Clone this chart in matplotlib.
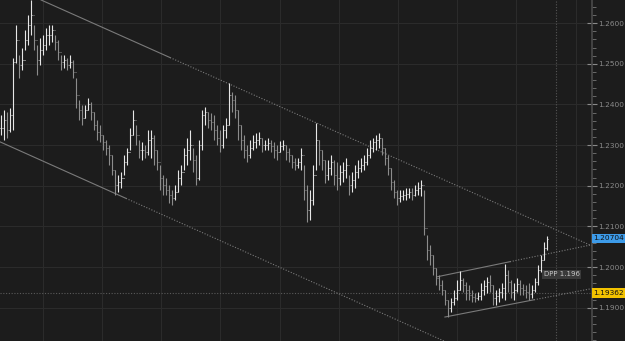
import numpy as np
import matplotlib
matplotlib.use("Agg")
import matplotlib.pyplot as plt
from matplotlib.ticker import MultipleLocator, FormatStrFormatter

# OHLC bars (price)
highs = [1.2374, 1.2386, 1.2381, 1.2391, 1.2514, 1.2595, 1.2522, 1.2539, 1.2583, 1.2620,
         1.2657, 1.2595, 1.2546, 1.2563, 1.2571, 1.2588, 1.2595, 1.2595, 1.2571, 1.2559,
         1.2522, 1.2522, 1.2514, 1.2522, 1.2509, 1.2465, 1.2411, 1.2399, 1.2399, 1.2416,
         1.2406, 1.2381, 1.2362, 1.2349, 1.2325, 1.2312, 1.2300, 1.2276, 1.2239, 1.2226,
         1.2234, 1.2276, 1.2293, 1.2342, 1.2386, 1.2349, 1.2312, 1.2308, 1.2300, 1.2337,
         1.2337, 1.2325, 1.2288, 1.2251, 1.2226, 1.2219, 1.2202, 1.2189, 1.2202, 1.2239,
         1.2251, 1.2293, 1.2317, 1.2337, 1.2293, 1.2276, 1.2312, 1.2386, 1.2394, 1.2381,
         1.2379, 1.2374, 1.2349, 1.2337, 1.2349, 1.2367, 1.2453, 1.2431, 1.2423, 1.2386,
         1.2349, 1.2325, 1.2300, 1.2312, 1.2325, 1.2330, 1.2332, 1.2317, 1.2312, 1.2317,
         1.2312, 1.2308, 1.2300, 1.2310, 1.2312, 1.2300, 1.2293, 1.2276, 1.2268, 1.2268,
         1.2293, 1.2251, 1.2202, 1.2189, 1.2251, 1.2354, 1.2312, 1.2288, 1.2263, 1.2263,
         1.2276, 1.2263, 1.2258, 1.2251, 1.2258, 1.2268, 1.2226, 1.2234, 1.2251, 1.2263,
         1.2268, 1.2276, 1.2293, 1.2312, 1.2317, 1.2325, 1.2330, 1.2317, 1.2293, 1.2276,
         1.2244, 1.2214, 1.2189, 1.2189, 1.2189, 1.2194, 1.2194, 1.2194, 1.2202, 1.2209,
         1.2214, 1.2189, 1.2079, 1.2054, 1.2029, 1.1997, 1.1980, 1.1968, 1.1943, 1.1919,
         1.1923, 1.1943, 1.1968, 1.1990, 1.1973, 1.1963, 1.1956, 1.1943, 1.1936, 1.1938,
         1.1961, 1.1968, 1.1975, 1.1980, 1.1956, 1.1943, 1.1948, 1.1961, 1.2007, 1.1993,
         1.1968, 1.1961, 1.1973, 1.1968, 1.1958, 1.1956, 1.1961, 1.1956, 1.1973, 1.2005,
         1.2029, 1.2061, 1.2076]
lows = [1.2325, 1.2312, 1.2317, 1.2332, 1.2337, 1.2502, 1.2465, 1.2485, 1.2534, 1.2546,
        1.2571, 1.2534, 1.2472, 1.2497, 1.2522, 1.2534, 1.2546, 1.2554, 1.2534, 1.2509,
        1.2485, 1.2490, 1.2485, 1.2490, 1.2465, 1.2391, 1.2362, 1.2349, 1.2367, 1.2386,
        1.2362, 1.2337, 1.2312, 1.2308, 1.2288, 1.2276, 1.2251, 1.2226, 1.2177, 1.2184,
        1.2194, 1.2226, 1.2251, 1.2288, 1.2325, 1.2300, 1.2268, 1.2263, 1.2268, 1.2276,
        1.2268, 1.2251, 1.2239, 1.2189, 1.2177, 1.2177, 1.2157, 1.2152, 1.2165, 1.2184,
        1.2202, 1.2239, 1.2251, 1.2263, 1.2234, 1.2202, 1.2214, 1.2288, 1.2349, 1.2342,
        1.2337, 1.2312, 1.2300, 1.2283, 1.2293, 1.2317, 1.2349, 1.2381, 1.2367, 1.2312,
        1.2288, 1.2268, 1.2258, 1.2268, 1.2288, 1.2293, 1.2300, 1.2283, 1.2288, 1.2288,
        1.2283, 1.2268, 1.2263, 1.2283, 1.2288, 1.2263, 1.2258, 1.2244, 1.2239, 1.2244,
        1.2239, 1.2165, 1.2111, 1.2116, 1.2152, 1.2239, 1.2251, 1.2239, 1.2207, 1.2214,
        1.2226, 1.2202, 1.2189, 1.2202, 1.2209, 1.2219, 1.2177, 1.2184, 1.2194, 1.2219,
        1.2234, 1.2239, 1.2251, 1.2268, 1.2283, 1.2288, 1.2293, 1.2276, 1.2251, 1.2226,
        1.2189, 1.2170, 1.2152, 1.2160, 1.2165, 1.2165, 1.2170, 1.2165, 1.2175, 1.2177,
        1.2175, 1.2079, 1.2017, 1.2005, 1.1980, 1.1956, 1.1943, 1.1931, 1.1906, 1.1877,
        1.1889, 1.1906, 1.1919, 1.1943, 1.1938, 1.1919, 1.1919, 1.1914, 1.1914, 1.1919,
        1.1919, 1.1931, 1.1936, 1.1938, 1.1906, 1.1906, 1.1914, 1.1923, 1.1919, 1.1938,
        1.1923, 1.1919, 1.1938, 1.1931, 1.1931, 1.1923, 1.1919, 1.1923, 1.1938, 1.1956,
        1.1988, 1.2017, 1.2042]
closes = [1.2342, 1.2362, 1.2337, 1.2374, 1.2504, 1.2559, 1.2497, 1.2509, 1.2559, 1.2595,
          1.2620, 1.2559, 1.2509, 1.2534, 1.2546, 1.2571, 1.2571, 1.2583, 1.2554, 1.2529,
          1.2504, 1.2509, 1.2497, 1.2504, 1.2480, 1.2423, 1.2386, 1.2367, 1.2386, 1.2401,
          1.2381, 1.2349, 1.2332, 1.2325, 1.2308, 1.2293, 1.2276, 1.2239, 1.2202, 1.2209,
          1.2219, 1.2258, 1.2283, 1.2325, 1.2362, 1.2325, 1.2288, 1.2288, 1.2283, 1.2312,
          1.2317, 1.2288, 1.2258, 1.2219, 1.2202, 1.2189, 1.2177, 1.2170, 1.2184, 1.2219,
          1.2234, 1.2276, 1.2288, 1.2300, 1.2263, 1.2219, 1.2300, 1.2374, 1.2381, 1.2362,
          1.2357, 1.2337, 1.2317, 1.2300, 1.2337, 1.2349, 1.2423, 1.2411, 1.2386, 1.2349,
          1.2312, 1.2288, 1.2276, 1.2293, 1.2308, 1.2312, 1.2317, 1.2300, 1.2300, 1.2305,
          1.2298, 1.2288, 1.2283, 1.2298, 1.2300, 1.2283, 1.2276, 1.2258, 1.2251, 1.2258,
          1.2276, 1.2189, 1.2140, 1.2165, 1.2226, 1.2312, 1.2288, 1.2263, 1.2226, 1.2244,
          1.2258, 1.2226, 1.2219, 1.2234, 1.2239, 1.2251, 1.2202, 1.2214, 1.2234, 1.2244,
          1.2251, 1.2258, 1.2276, 1.2293, 1.2308, 1.2312, 1.2317, 1.2293, 1.2268, 1.2244,
          1.2209, 1.2184, 1.2170, 1.2175, 1.2177, 1.2180, 1.2184, 1.2177, 1.2189, 1.2194,
          1.2202, 1.2096, 1.2042, 1.2029, 1.1997, 1.1973, 1.1956, 1.1943, 1.1919, 1.1899,
          1.1914, 1.1923, 1.1943, 1.1968, 1.1956, 1.1943, 1.1931, 1.1926, 1.1923, 1.1929,
          1.1943, 1.1953, 1.1963, 1.1956, 1.1923, 1.1929, 1.1938, 1.1948, 1.1980, 1.1963,
          1.1938, 1.1943, 1.1958, 1.1948, 1.1943, 1.1938, 1.1933, 1.1943, 1.1963, 1.1993,
          1.2017, 1.2047, 1.2070]

# trend channels as (bar, price) pairs
big_upper = [(13.7, 1.2657), (196.7, 1.2054)]
big_lower = [(0.0, 1.2308), (148.0, 1.1818)]
small_upper = [(145.7, 1.1976), (196.7, 1.2054)]
small_lower = [(148.3, 1.1877), (197.3, 1.1947)]

last_price = 1.20704
level_price = 1.19362
dpp_price = 1.196

BG = '#1c1c1c'
GRID = '#2b2b2b'
LINE = '#7a7a7a'

fig = plt.figure(figsize=(6.25, 3.41), dpi=100, facecolor=BG)
ax = fig.add_axes([0, 0, 592 / 625, 1])
ax.set_facecolor(BG)

n = len(closes)
x = np.arange(n) + 0.3
ymin, ymax = 1.1818, 1.2657
ax.set_xlim(0, 592 / 3)
ax.set_ylim(ymin, ymax)

# grid
for gx in np.arange(14.3, 197, 19.73):
    ax.axvline(gx, color=GRID, lw=0.8, zorder=0)
for gy in np.arange(1.19, 1.27, 0.01):
    ax.axhline(gy, color=GRID, lw=0.8, zorder=0)

ax.axvline(185.3, color='#555555', lw=0.8, ls=(0, (1, 1.5)), zorder=1)
ax.axhline(level_price, color='#5a5a5a', lw=0.8, ls=(0, (1, 1.5)), zorder=1)


def channel(pts, solid_to, ext_to):
    (x0, y0), (x1, y1) = pts
    k = (y1 - y0) / (x1 - x0)
    ax.plot([x0, solid_to], [y0, y0 + k * (solid_to - x0)], color=LINE, lw=0.8, zorder=2)
    ax.plot([solid_to, ext_to], [y0 + k * (solid_to - x0), y0 + k * (ext_to - x0)],
            color=LINE, lw=0.8, ls=(0, (1, 1.5)), zorder=2)


channel(big_upper, 56.7, 197.3)
channel(big_lower, 42.0, 150.0)
channel(small_upper, 170.0, 197.3)
channel(small_lower, 178.0, 197.3)

# OHLC bars
prev = [closes[0]] + closes[:-1]
cols = ['#e6e6e6' if c >= p else '#8c8c8c' for c, p in zip(closes, prev)]
ax.vlines(x, lows, highs, colors=cols, lw=0.8, zorder=3)
ax.hlines(closes, x, x + 0.35, colors=cols, lw=0.7, zorder=3)
ax.hlines(prev, x - 0.35, x, colors=cols, lw=0.7, zorder=3)

# right axis
for s in ['top', 'left', 'bottom']:
    ax.spines[s].set_visible(False)
ax.spines['right'].set_color('#4a4a4a')
ax.spines['right'].set_linewidth(1.2)
ax.yaxis.tick_right()
ax.yaxis.set_major_locator(MultipleLocator(0.01))
ax.yaxis.set_minor_locator(MultipleLocator(0.002))
ax.yaxis.set_major_formatter(FormatStrFormatter('%.4f'))
ax.tick_params(axis='y', which='major', direction='inout', length=7, width=0.8,
               color='#8a8a8a', labelcolor='#8a8a8a', labelsize=5.3, pad=1)
ax.tick_params(axis='y', which='minor', direction='out', length=3, width=0.7, color='#6a6a6a')
ax.set_xticks([])

# price tags
ax.annotate('%.5f' % last_price, xy=(1, last_price), xycoords=('axes fraction', 'data'),
            xytext=(1.2, 0), textcoords='offset points', ha='left', va='center',
            fontsize=5.3, color='#101010', annotation_clip=False,
            bbox=dict(boxstyle='square,pad=0.22', fc='#3d9be9', ec='none'))
ax.annotate('%.5f' % level_price, xy=(1, level_price), xycoords=('axes fraction', 'data'),
            xytext=(1.2, 0), textcoords='offset points', ha='left', va='center',
            fontsize=5.3, color='#101010', annotation_clip=False,
            bbox=dict(boxstyle='square,pad=0.22', fc='#f2c200', ec='none'))
ax.text(181.2, 1.1982, 'DPP %.3f' % dpp_price, fontsize=5.0, color='#c8c8c8',
        ha='left', va='center', zorder=4,
        bbox=dict(boxstyle='square,pad=0.2', fc='#3a3a3a', ec='none'))

fig.savefig('out.png', dpi=100, facecolor=BG)
